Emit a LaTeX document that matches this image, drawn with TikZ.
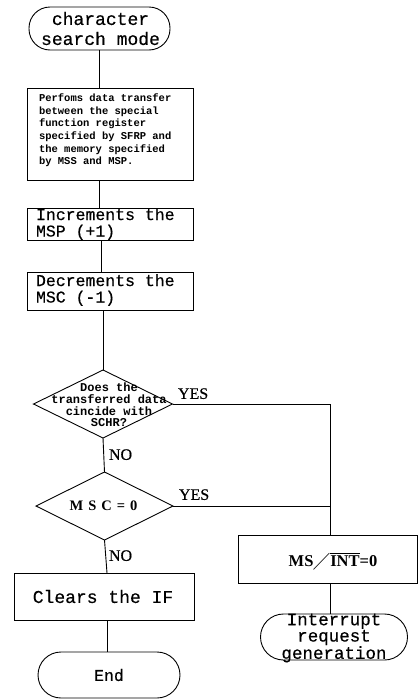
\documentclass[tikz,border=0pt]{standalone}
\usepackage{amssymb}
\usepackage{fontspec}
\setmainfont{Liberation Serif}
\setmonofont{Liberation Mono}
\newfontfamily\inkmono{Liberation Mono}[FakeBold=0.5]
\newfontfamily\inkserif{Liberation Serif}[FakeBold=0.6]
\usetikzlibrary{shapes.geometric}
\begin{document}
\begin{tikzpicture}[x=1pt,y=-1pt,
  every node/.style={inner sep=0pt, outer sep=0pt},
  flow/.style={line width=0.9pt},
  terminal/.style={draw, line width=0.9pt, rectangle, rounded corners=21pt},
  procbox/.style={draw, line width=0.9pt, rectangle},
  decision/.style={draw, line width=0.9pt, diamond},
  bigtt/.style={font=\fontsize{16.5}{16.5}\selectfont\inkmono, align=left},
  smalltt/.style={font=\fontsize{10.5}{12.6}\selectfont\ttfamily\bfseries, align=left},
  dtext/.style={font=\fontsize{12}{11.7}\selectfont\ttfamily\bfseries, align=center},
  answer/.style={font=\fontsize{16}{16}\selectfont\inkserif},
]
\useasboundingbox (0,0) rectangle (418,699);

% left column
\node[terminal, minimum width=141pt, minimum height=43pt] (start) at (99.5,28.5) {};
\node[font=\fontsize{18}{20}\selectfont\inkmono, align=center] (starttext) at ([xshift=1pt]start.center) {character\\search mode};

\node[procbox, minimum width=166pt, minimum height=92pt] (transfer) at (110,134) {};
\node[smalltt, anchor=north west] (transfertext) at (39,94) {Perfoms data transfer\\between the special\\function register\\specified by SFRP and\\the memory specified\\by MSS and MSP.};

\node[procbox, minimum width=166pt, minimum height=32pt] (inc) at (110,224) {};
\node[bigtt, anchor=west] (inctext) at (36,224) {Increments the\\MSP (+1)};

\node[procbox, minimum width=166pt, minimum height=38pt] (dec) at (110,291) {};
\node[bigtt, anchor=west] (dectext) at (36,290) {Decrements the\\MSC (-1)};

\node[decision, minimum width=139pt, minimum height=68pt] (match) at (103,404) {};
\node[dtext] (matchtext) at (109,405) {Does the\\transferred data\\cincide with\\SCHR?};

\node[decision, minimum width=137pt, minimum height=68pt] (zero) at (104.5,506) {};
\node[font=\fontsize{14.5}{14}\selectfont\rmfamily\bfseries] (zerotext) at ([xshift=-1pt]zero.center) {M\hspace{5pt}S\hspace{5pt}C\hspace{5pt}=\hspace{5pt}0};

\node[procbox, minimum width=180pt, minimum height=47pt] (clear) at (104,596.5) {};
\node[font=\fontsize{18}{18}\selectfont\inkmono] (cleartext) at ([xshift=-1pt]clear.center) {Clears the IF};

\node[terminal, minimum width=142pt, minimum height=46pt, rounded corners=23pt] (end) at (109,675) {};
\node[font=\fontsize{16.5}{16}\selectfont\inkmono] (endtext) at (end.center) {End};

% right column
\node[procbox, minimum width=179pt, minimum height=48pt] (msint) at (327.5,559) {};
\node[font=\fontsize{16.5}{16}\selectfont\rmfamily\bfseries] (msinttext) at (333,561)
  {MS{\fontsize{19}{19}\selectfont$\diagup$}$\overline{\hbox{INT}}${=}0};

\node[terminal, minimum width=147pt, minimum height=46pt, rounded corners=23pt] (irq) at (334,637) {};
\node[font=\fontsize{17.5}{14.5}\selectfont\inkmono, align=center] (irqtext) at ([yshift=-1pt]irq.center) {Interrupt\\request\\generation};

% answers
\node[answer, anchor=south west] (yes1) at (178,399) {YES};
\node[answer, anchor=south west] (no1) at (109,460) {NO};
\node[answer, anchor=south west] (yes2) at (179,500) {YES};
\node[answer, anchor=south west] (no2) at (109,561) {NO};

% connectors
\coordinate (bus) at (330.5,0);
\draw[flow] (start.south) -- (start.south |- transfer.north);
\draw[flow] (start.south |- transfer.south) -- (start.south |- inc.north);
\draw[flow] ([xshift=2pt]start.south |- inc.south) -- ([xshift=2pt]start.south |- dec.north);
\draw[flow] (match.north |- dec.south) -- (match.north);
\draw[flow] (match.south) -- (zero.north);
\draw[flow] (zero.south) -- ([xshift=2.5pt]zero.south |- clear.north);
\draw[flow] ([xshift=3pt]clear.south) -- ([xshift=3pt]clear.south |- end.north);
\draw[flow] (match.east) -- (match.east -| bus) -- (bus |- msint.north);
\draw[flow] (zero.east) -- (zero.east -| bus);
\draw[flow] (bus |- msint.south) -- (bus |- irq.north);
\end{tikzpicture}
\end{document}
